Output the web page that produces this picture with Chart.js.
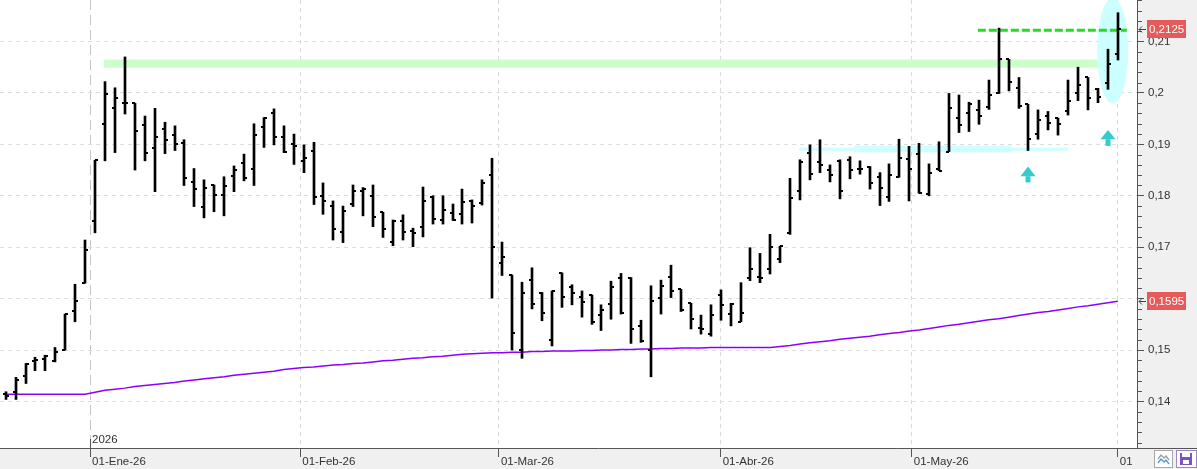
<!DOCTYPE html>
<html>
<head>
<meta charset="utf-8">
<script src="https://cdn.jsdelivr.net/npm/chart.js@4.4.1/dist/chart.umd.min.js"></script>
<style>
  html, body { margin: 0; padding: 0; background: #f0f0f0; }
  canvas { display: block; }
</style>
</head>
<body>
<canvas id="ohlc-chart" width="1197" height="469"></canvas>
<script>
// x axis is the trading-session index; month marks sit between sessions
const monthTickPos = [8.5, 29.67, 49.67, 72, 91.25, 112];
const monthTickLabels = ["01-Ene-26", "01-Feb-26", "01-Mar-26", "01-Abr-26", "01-May-26", "01"];
const yearLabel = "2026";
const priceTicks = [0.14, 0.15, 0.16, 0.17, 0.18, 0.19, 0.20, 0.21];

const opens = [
  0.1414, 0.1419, 0.1450, 0.1479, 0.1482, 0.1479, 0.1500, 0.1575, 0.1630, 0.1751,
  0.1939, 0.1970, 0.1980, 0.1980, 0.1937, 0.1893, 0.1929, 0.1918, 0.1902, 0.1826,
  0.1779, 0.1821, 0.1802, 0.1839, 0.1863, 0.1853, 0.1933, 0.1960, 0.1914, 0.1901,
  0.1868, 0.1887, 0.1800, 0.1780, 0.1730, 0.1784, 0.1809, 0.1800, 0.1768, 0.1710,
  0.1750, 0.1732, 0.1739, 0.1798, 0.1752, 0.1767, 0.1765, 0.1790, 0.1785, 0.1840,
  0.1669, 0.1645, 0.1501, 0.1636, 0.1610, 0.1520, 0.1649, 0.1622, 0.1604, 0.1607,
  0.1568, 0.1590, 0.1641, 0.1640, 0.1547, 0.1500, 0.1601, 0.1642, 0.1618, 0.1591,
  0.1542, 0.1531, 0.1608, 0.1571, 0.1555, 0.1640, 0.1643, 0.1657, 0.1678, 0.1727,
  0.1809, 0.1884, 0.1865, 0.1850, 0.1868, 0.1870, 0.1853, 0.1855, 0.1836, 0.1798,
  0.1837, 0.1871, 0.1881, 0.1803, 0.1852, 0.1886, 0.1952, 0.1960, 0.1967, 0.1973,
  0.1999, 0.2065, 0.2010, 0.1978, 0.1920, 0.1955, 0.1951, 0.1964, 0.1999, 0.2030,
  0.2008, 0.2020, 0.2076
];
const highs = [
  0.1419, 0.1447, 0.1474, 0.1486, 0.1490, 0.1505, 0.1570, 0.1628, 0.1714, 0.1869,
  0.2022, 0.2010, 0.2070, 0.1980, 0.1955, 0.1970, 0.1943, 0.1936, 0.1909, 0.1853,
  0.1831, 0.1821, 0.1837, 0.1858, 0.1881, 0.1940, 0.1952, 0.1969, 0.1936, 0.1920,
  0.1899, 0.1904, 0.1825, 0.1790, 0.1780, 0.1821, 0.1816, 0.1821, 0.1768, 0.1753,
  0.1763, 0.1737, 0.1817, 0.1800, 0.1800, 0.1784, 0.1813, 0.1792, 0.1831, 0.1873,
  0.1710, 0.1646, 0.1632, 0.1660, 0.1612, 0.1615, 0.1650, 0.1627, 0.1615, 0.1607,
  0.1588, 0.1634, 0.1649, 0.1641, 0.1558, 0.1625, 0.1636, 0.1665, 0.1618, 0.1591,
  0.1568, 0.1588, 0.1617, 0.1591, 0.1631, 0.1699, 0.1688, 0.1725, 0.1702, 0.1834,
  0.1870, 0.1899, 0.1909, 0.1860, 0.1870, 0.1876, 0.1868, 0.1857, 0.1845, 0.1862,
  0.1910, 0.1896, 0.1902, 0.1862, 0.1905, 0.1999, 0.1996, 0.1982, 0.1986, 0.2025,
  0.2126, 0.2065, 0.2030, 0.1978, 0.1967, 0.1964, 0.1951, 0.2025, 0.2050, 0.2030,
  0.2009, 0.2085, 0.2156
];
const lows = [
  0.1404, 0.1404, 0.1435, 0.1460, 0.1460, 0.1477, 0.1500, 0.1555, 0.1630, 0.1728,
  0.1868, 0.1884, 0.1959, 0.1850, 0.1868, 0.1808, 0.1882, 0.1888, 0.1820, 0.1779,
  0.1757, 0.1769, 0.1761, 0.1808, 0.1829, 0.1820, 0.1894, 0.1899, 0.1884, 0.1861,
  0.1845, 0.1783, 0.1764, 0.1714, 0.1709, 0.1779, 0.1761, 0.1740, 0.1719, 0.1703,
  0.1714, 0.1701, 0.1720, 0.1745, 0.1745, 0.1752, 0.1745, 0.1747, 0.1782, 0.1601,
  0.1645, 0.1500, 0.1484, 0.1580, 0.1557, 0.1508, 0.1583, 0.1588, 0.1564, 0.1550,
  0.1538, 0.1560, 0.1570, 0.1513, 0.1515, 0.1448, 0.1570, 0.1602, 0.1575, 0.1541,
  0.1531, 0.1527, 0.1558, 0.1547, 0.1555, 0.1635, 0.1631, 0.1648, 0.1670, 0.1725,
  0.1792, 0.1831, 0.1845, 0.1827, 0.1794, 0.1833, 0.1842, 0.1813, 0.1781, 0.1789,
  0.1836, 0.1790, 0.1805, 0.1800, 0.1849, 0.1886, 0.1923, 0.1925, 0.1939, 0.1968,
  0.1999, 0.2004, 0.1970, 0.1888, 0.1910, 0.1928, 0.1918, 0.1957, 0.1985, 0.1967,
  0.1981, 0.2007, 0.2064
];
const closes = [
  0.1411, 0.1442, 0.1473, 0.1481, 0.1488, 0.1496, 0.1570, 0.1595, 0.1695, 0.1869,
  0.1997, 0.1990, 0.1980, 0.1925, 0.1883, 0.1915, 0.1908, 0.1901, 0.1834, 0.1813,
  0.1815, 0.1802, 0.1819, 0.1851, 0.1834, 0.1918, 0.1952, 0.1915, 0.1886, 0.1897,
  0.1873, 0.1797, 0.1789, 0.1735, 0.1770, 0.1809, 0.1814, 0.1758, 0.1735, 0.1750,
  0.1729, 0.1727, 0.1789, 0.1754, 0.1772, 0.1753, 0.1787, 0.1781, 0.1825, 0.1700,
  0.1680, 0.1534, 0.1610, 0.1590, 0.1572, 0.1614, 0.1604, 0.1610, 0.1594, 0.1555,
  0.1578, 0.1623, 0.1573, 0.1540, 0.1518, 0.1595, 0.1625, 0.1614, 0.1578, 0.1560,
  0.1540, 0.1568, 0.1588, 0.1590, 0.1572, 0.1657, 0.1641, 0.1700, 0.1702, 0.1795,
  0.1866, 0.1842, 0.1860, 0.1840, 0.1809, 0.1850, 0.1852, 0.1824, 0.1815, 0.1840,
  0.1873, 0.1852, 0.1805, 0.1844, 0.1849, 0.1970, 0.1938, 0.1979, 0.1956, 0.1996,
  0.2065, 0.2022, 0.1975, 0.1911, 0.1947, 0.1941, 0.1940, 0.1985, 0.2015, 0.1990,
  0.1992, 0.2056, 0.2125
];
// moving average (purple line)
const ma = [
  0.1414, 0.1414, 0.1414, 0.1414, 0.1414, 0.1414, 0.1414, 0.1414, 0.1414, 0.1418,
  0.1422, 0.1424, 0.1426, 0.1429, 0.1431, 0.1433, 0.1435, 0.1437, 0.1440, 0.1442,
  0.1444, 0.1446, 0.1448, 0.1451, 0.1453, 0.1455, 0.1457, 0.1459, 0.1462, 0.1464,
  0.1466, 0.1467, 0.1469, 0.1471, 0.1472, 0.1474, 0.1475, 0.1477, 0.1479, 0.1480,
  0.1482, 0.1484, 0.1485, 0.1487, 0.1488, 0.1490, 0.1492, 0.1493, 0.1494, 0.1495,
  0.1495, 0.1496, 0.1496, 0.1497, 0.1497, 0.1498, 0.1498, 0.1498, 0.1499, 0.1499,
  0.1500, 0.1500, 0.1501, 0.1501, 0.1502, 0.1502, 0.1503, 0.1503, 0.1504, 0.1504,
  0.1504, 0.1505, 0.1505, 0.1505, 0.1505, 0.1505, 0.1505, 0.1505, 0.1507, 0.1509,
  0.1512, 0.1514, 0.1516, 0.1518, 0.1521, 0.1523, 0.1525, 0.1527, 0.1530, 0.1532,
  0.1534, 0.1537, 0.1539, 0.1542, 0.1545, 0.1548, 0.1550, 0.1553, 0.1556, 0.1559,
  0.1561, 0.1564, 0.1567, 0.1570, 0.1573, 0.1575, 0.1578, 0.1581, 0.1584, 0.1586,
  0.1589, 0.1592, 0.1595
];

// hand-drawn marks (session index / price)
const greenZone = { from: 9.9, to: 110, top: 0.2065, bottom: 0.2049 };
const cyanZone = [
  { from: 79.9, to: 107, top: 0.18935, bottom: 0.18877 },
  { from: 85.5, to: 101.3, top: 0.18974, bottom: 0.18846 }
];
const breakLine = { from: 97.9, to: 112.9, value: 0.2122 };
const breakOval = { from: 109.93, to: 113.05, top: 0.2185, bottom: 0.1979 };
const upArrows = [
  { at: 103, tip: 0.1857, neck: 0.1838, foot: 0.1826 },
  { at: 111, tip: 0.1928, neck: 0.1910, foot: 0.1897 }
];

Chart.defaults.font.family = "'Liberation Sans', Arial, sans-serif";
Chart.defaults.font.size = 11.5;
Chart.defaults.color = '#333';

// little horizontal ticks for open (left) and close (right)
function tickMark(side) {
  const c = document.createElement('canvas');
  c.width = 10; c.height = 2;
  const g = c.getContext('2d');
  g.fillStyle = '#000';
  g.fillRect(side === 'open' ? 2 : 5, 0, 3, 2);
  return c;
}

const idx = opens.map((_, i) => i);
const noPad = s => { s.paddingTop = 0; s.paddingBottom = 0; s.paddingLeft = 0; s.paddingRight = 0; };

// snap the OHLC marks to whole pixels so they stay crisp
const crisp = {
  id: 'crisp',
  afterDatasetsUpdate(chart) {
    [0, 1, 2].forEach(d => {
      chart.getDatasetMeta(d).data.forEach(el => {
        el.x = Math.round(el.x);
        if (d < 2) el.y = Math.round(el.y);
      });
    });
  }
};

const decorations = {
  id: 'decorations',
  beforeDraw(chart) {
    const { ctx, chartArea: a } = chart;
    ctx.save();
    ctx.fillStyle = '#f0f0f0';
    ctx.fillRect(0, 0, chart.width, chart.height);
    ctx.fillStyle = '#fff';
    ctx.fillRect(a.left, a.top, a.right - a.left, a.bottom - a.top);
    ctx.restore();
  },
  beforeDatasetsDraw(chart) {
    const { ctx, chartArea: a, scales: { x, y } } = chart;
    const band = (z, color) => {
      ctx.fillStyle = color;
      ctx.fillRect(x.getPixelForValue(z.from), y.getPixelForValue(z.top),
        x.getPixelForValue(z.to) - x.getPixelForValue(z.from),
        y.getPixelForValue(z.bottom) - y.getPixelForValue(z.top));
    };
    ctx.save();
    ctx.beginPath();
    ctx.rect(a.left, a.top, a.right - a.left, a.bottom - a.top);
    ctx.clip();

    band(greenZone, '#ccffcc');
    cyanZone.forEach(z => band(z, '#ccffff'));

    // oval around the breakout
    const x0 = x.getPixelForValue(breakOval.from), x1 = x.getPixelForValue(breakOval.to);
    const y0 = y.getPixelForValue(breakOval.top), y1 = y.getPixelForValue(breakOval.bottom);
    ctx.fillStyle = '#ccffff';
    ctx.beginPath();
    ctx.ellipse((x0 + x1) / 2, (y0 + y1) / 2, (x1 - x0) / 2, (y1 - y0) / 2, 0, 0, Math.PI * 2);
    ctx.fill();

    // dashed breakout level
    const ly = y.getPixelForValue(breakLine.value);
    ctx.strokeStyle = '#22dd22';
    ctx.lineWidth = 3;
    ctx.setLineDash([8, 3]);
    ctx.beginPath();
    ctx.moveTo(x.getPixelForValue(breakLine.from), ly);
    ctx.lineTo(x.getPixelForValue(breakLine.to), ly);
    ctx.stroke();
    ctx.setLineDash([]);

    // arrows
    ctx.fillStyle = '#33cccc';
    upArrows.forEach(ar => {
      const cx = Math.round(x.getPixelForValue(ar.at));
      const tip = y.getPixelForValue(ar.tip), neck = y.getPixelForValue(ar.neck), foot = y.getPixelForValue(ar.foot);
      ctx.beginPath();
      ctx.moveTo(cx, tip);
      ctx.lineTo(cx + 7.5, neck);
      ctx.lineTo(cx - 7.5, neck);
      ctx.closePath();
      ctx.fill();
      ctx.fillRect(cx - 2.5, neck, 5, foot - neck);
    });
    ctx.restore();
  },
  afterDraw(chart) {
    const { ctx, chartArea: a, scales: { x, y } } = chart;
    ctx.save();
    ctx.strokeStyle = '#555';
    ctx.lineWidth = 1;
    ctx.beginPath();
    ctx.moveTo(a.right + 0.5, 0); ctx.lineTo(a.right + 0.5, a.bottom);
    ctx.moveTo(0, a.bottom + 0.5); ctx.lineTo(chart.width, a.bottom + 0.5);
    // minor ticks every 0.002
    for (let k = 66; k <= 109; k++) {
      if (k % 5 === 0) continue;
      const yy = Math.round(y.getPixelForValue(k / 500)) + 0.5;
      ctx.moveTo(a.right, yy); ctx.lineTo(a.right + 5, yy);
    }
    // year marker
    const jx = Math.round(x.getPixelForValue(monthTickPos[0])) + 0.5;
    ctx.moveTo(jx, a.bottom - 9); ctx.lineTo(jx, a.bottom);
    ctx.stroke();
    ctx.font = "11.5px 'Liberation Sans', Arial, sans-serif";
    ctx.fillStyle = '#333';
    ctx.textBaseline = 'middle';
    ctx.textAlign = 'left';
    ctx.fillText(yearLabel, jx + 1.5, a.bottom - 8);

    // last price and last average tags
    const last = closes.length - 1;
    [closes[last], ma[last]].forEach(v => {
      const yy = Math.round(y.getPixelForValue(v));
      ctx.fillStyle = '#e65a5a';
      ctx.fillRect(a.right + 10, yy - 9, 39, 18);
      ctx.fillStyle = '#fff';
      ctx.fillText(v.toFixed(4).replace('.', ','), a.right + 12, yy + 0.5);
      ctx.strokeStyle = '#444';
      ctx.beginPath();
      ctx.moveTo(a.right + 2, yy + 0.5); ctx.lineTo(a.right + 9, yy + 0.5);
      ctx.moveTo(a.right + 5, yy - 2.5); ctx.lineTo(a.right + 2, yy + 0.5); ctx.lineTo(a.right + 5, yy + 3.5);
      ctx.stroke();
    });

    // corner buttons
    ctx.fillStyle = '#fff';
    ctx.fillRect(1155, 451, 17, 16);
    ctx.strokeStyle = '#a8a8a8';
    ctx.strokeRect(1154.5, 450.5, 18, 17);
    ctx.lineWidth = 1.3;
    ctx.strokeStyle = '#9aa0a8';
    ctx.beginPath();
    ctx.moveTo(1158, 459); ctx.lineTo(1161, 455); ctx.lineTo(1164, 458); ctx.lineTo(1166, 456); ctx.lineTo(1169, 460);
    ctx.stroke();
    ctx.strokeStyle = '#4a9be0';
    ctx.beginPath();
    ctx.moveTo(1158, 463); ctx.lineTo(1161, 459); ctx.lineTo(1164, 462); ctx.lineTo(1166, 460); ctx.lineTo(1169, 464);
    ctx.stroke();
    ctx.lineWidth = 1;
    ctx.fillStyle = '#fff';
    ctx.fillRect(1177, 451, 19, 16);
    ctx.strokeStyle = '#9a88c8';
    ctx.strokeRect(1176.5, 450.5, 20, 17);
    ctx.fillStyle = '#7e52c6';
    ctx.fillRect(1180, 453, 12, 12);
    ctx.fillStyle = '#fff';
    ctx.fillRect(1182, 453, 8, 4);
    ctx.fillRect(1183, 460, 6, 4);
    ctx.restore();
  }
};

new Chart(document.getElementById('ohlc-chart'), {
  type: 'bar',
  data: {
    datasets: [
      {
        type: 'line',
        label: 'Apertura',
        data: idx.map(i => ({ x: i, y: opens[i] })),
        showLine: false,
        pointStyle: tickMark('open'),
        pointRadius: 3
      },
      {
        type: 'line',
        label: 'Cierre',
        data: idx.map(i => ({ x: i, y: closes[i] })),
        showLine: false,
        pointStyle: tickMark('close'),
        pointRadius: 3
      },
      {
        label: 'Rango',
        data: idx.map(i => ({ x: i, y: [lows[i], highs[i]] })),
        backgroundColor: '#000',
        borderWidth: 0,
        barThickness: 2
      },
      {
        type: 'line',
        label: 'Media',
        data: idx.map(i => ({ x: i, y: ma[i] })),
        borderColor: '#8b00ff',
        borderWidth: 1.5,
        pointRadius: 0,
        tension: 0
      }
    ]
  },
  options: {
    responsive: false,
    devicePixelRatio: 1,
    animation: false,
    events: [],
    layout: { padding: 0, autoPadding: false },
    plugins: { legend: { display: false }, tooltip: { enabled: false } },
    scales: {
      x: {
        type: 'linear',
        position: 'bottom',
        min: -0.574,
        max: 113.93,
        bounds: 'data',
        offset: false,
        afterBuildTicks: s => { s.ticks = monthTickPos.map(v => ({ value: v })); },
        afterFit: s => { s.height = 21; noPad(s); },
        ticks: {
          autoSkip: false,
          maxRotation: 0,
          align: 'start',
          labelOffset: 2,
          padding: -2,
          color: '#333',
          callback: (v, i) => monthTickLabels[i]
        },
        grid: {
          offset: false,
          color: c => c.index === 0 ? '#c4c4c4' : '#dadada',
          lineWidth: 1,
          tickLength: 9,
          tickColor: '#555',
          tickWidth: 1
        },
        border: { display: false, dash: c => c.index === 0 ? [10, 5] : [4, 4] }
      },
      y: {
        type: 'linear',
        position: 'right',
        min: 0.130958,
        max: 0.218069,
        bounds: 'data',
        afterBuildTicks: s => { s.ticks = priceTicks.map(v => ({ value: v })); },
        afterFit: s => { s.width = 60; noPad(s); },
        ticks: {
          autoSkip: false,
          padding: 4,
          color: '#333',
          callback: v => String(+v.toFixed(2)).replace('.', ',')
        },
        grid: {
          color: '#dcdcdc',
          lineWidth: 1,
          tickLength: 7,
          tickColor: '#555',
          tickWidth: 1
        },
        border: { display: false, dash: [4, 4] }
      }
    }
  },
  plugins: [crisp, decorations]
});
</script>
</body>
</html>
